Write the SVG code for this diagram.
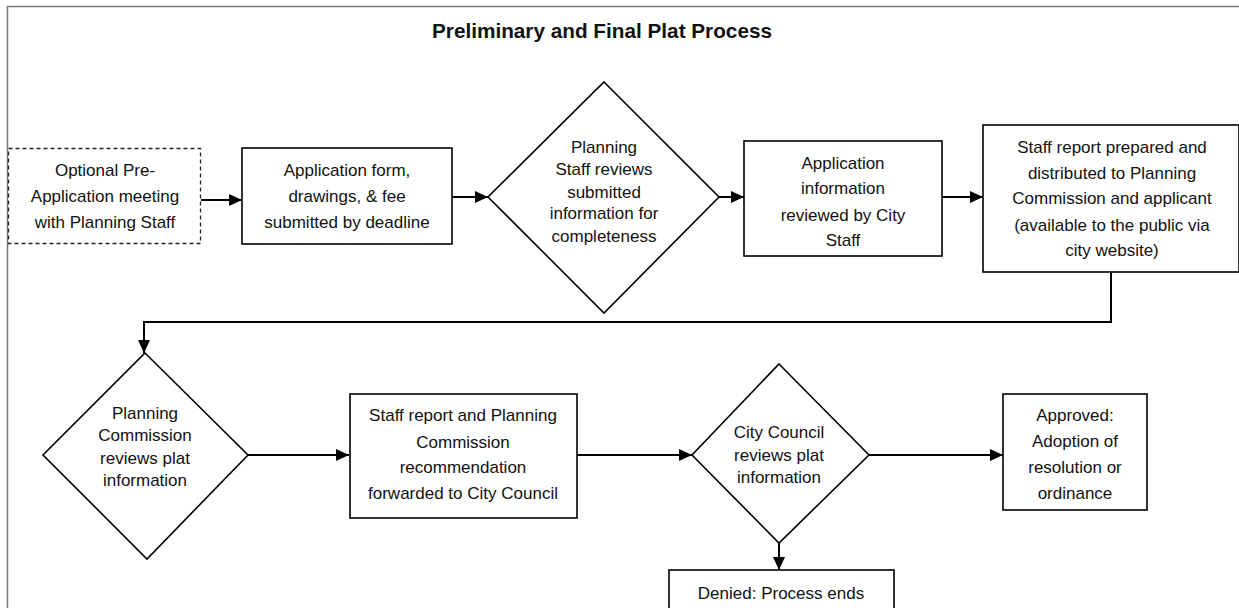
<svg xmlns="http://www.w3.org/2000/svg" width="1239" height="608" viewBox="0 0 1239 608">
<style>
.n{fill:#fff;stroke:#000;stroke-width:1.6}
.d{stroke-dasharray:4 3;stroke:#222;stroke-width:1.3}
.t{font-family:"Liberation Sans",Arial,sans-serif;font-size:17px;fill:#111;text-anchor:middle}
.c{fill:none;stroke:#000;stroke-width:2}
.title{font-family:"Liberation Sans",Arial,sans-serif;font-size:21px;font-weight:bold;fill:#111;text-anchor:middle}
</style>
<defs>
<marker id="ah" markerWidth="13" markerHeight="12" refX="13" refY="6" orient="auto" markerUnits="userSpaceOnUse">
<path d="M0,0 L13,6 L0,12 Z" fill="#000"/>
</marker>
</defs>
<rect width="1239" height="608" fill="#fff"/>
<path d="M7.5,608 V6.5 H1239" fill="none" stroke="#777" stroke-width="1.5"/>
<text class="title" x="602" y="38" textLength="340" lengthAdjust="spacingAndGlyphs">Preliminary and Final Plat Process</text>

<g id="connectors">
<path class="c" d="M201,200 H242" marker-end="url(#ah)"/>
<path class="c" d="M452,197 H488" marker-end="url(#ah)"/>
<path class="c" d="M719,197 H744" marker-end="url(#ah)"/>
<path class="c" d="M942,197 H983" marker-end="url(#ah)"/>
<path class="c" d="M1111,272 V322 H144 V353" marker-end="url(#ah)"/>
<path class="c" d="M248,455 H349" marker-end="url(#ah)"/>
<path class="c" d="M577,455 H692" marker-end="url(#ah)"/>
<path class="c" d="M779,543 V570" marker-end="url(#ah)"/>
<path class="c" d="M869,455 H1003" marker-end="url(#ah)"/>
</g>

<g id="n1">
<rect class="n d" x="8.5" y="148.5" width="192" height="95"/>
<text class="t" x="105" y="176">Optional Pre-</text>
<text class="t" x="105" y="202">Application meeting</text>
<text class="t" x="105" y="228">with Planning Staff</text>
</g>
<g id="n2">
<rect class="n" x="242" y="148" width="210" height="96"/>
<text class="t" x="347" y="176">Application form,</text>
<text class="t" x="347" y="202">drawings, &amp; fee</text>
<text class="t" x="347" y="228">submitted by deadline</text>
</g>
<g id="n3">
<polygon class="n" points="604,82 719,197 604,313 488,197"/>
<text class="t" x="604" y="153">Planning</text>
<text class="t" x="604" y="175">Staff reviews</text>
<text class="t" x="604" y="198">submitted</text>
<text class="t" x="604" y="219">information for</text>
<text class="t" x="604" y="242">completeness</text>
</g>
<g id="n4">
<rect class="n" x="744" y="141" width="198" height="115"/>
<text class="t" x="843" y="169">Application</text>
<text class="t" x="843" y="194">information</text>
<text class="t" x="843" y="221">reviewed by City</text>
<text class="t" x="843" y="246">Staff</text>
</g>
<g id="n5">
<rect class="n" x="983" y="125" width="256" height="147"/>
<text class="t" x="1112" y="153">Staff report prepared and</text>
<text class="t" x="1112" y="179">distributed to Planning</text>
<text class="t" x="1112" y="204">Commission and applicant</text>
<text class="t" x="1112" y="231">(available to the public via</text>
<text class="t" x="1112" y="256">city website)</text>
</g>
<g id="n6">
<polygon class="n" points="145,353 248,455 147,559 43,455"/>
<text class="t" x="145" y="419">Planning</text>
<text class="t" x="145" y="441">Commission</text>
<text class="t" x="145" y="464">reviews plat</text>
<text class="t" x="145" y="486">information</text>
</g>
<g id="n7">
<rect class="n" x="350" y="394" width="227" height="124"/>
<text class="t" x="463" y="421">Staff report and Planning</text>
<text class="t" x="463" y="448">Commission</text>
<text class="t" x="463" y="473">recommendation</text>
<text class="t" x="463" y="499">forwarded to City Council</text>
</g>
<g id="n8">
<polygon class="n" points="779,364 869,455 779,543 692,455"/>
<text class="t" x="779" y="438">City Council</text>
<text class="t" x="779" y="461">reviews plat</text>
<text class="t" x="779" y="483">information</text>
</g>
<g id="n9">
<rect class="n" x="669" y="570" width="225" height="50"/>
<text class="t" x="781" y="599">Denied: Process ends</text>
</g>
<g id="n10">
<rect class="n" x="1003" y="394" width="144" height="116"/>
<text class="t" x="1075" y="421">Approved:</text>
<text class="t" x="1075" y="447">Adoption of</text>
<text class="t" x="1075" y="473">resolution or</text>
<text class="t" x="1075" y="499">ordinance</text>
</g>
</svg>
